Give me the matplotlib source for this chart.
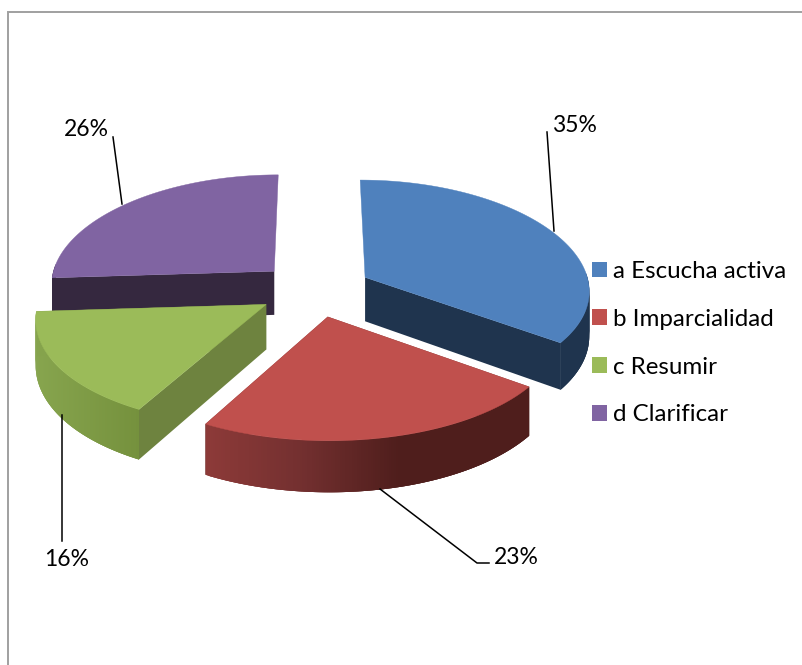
import numpy as np
import matplotlib
matplotlib.use("Agg")
import matplotlib.pyplot as plt
from matplotlib.patches import Polygon, Patch
from matplotlib.colors import to_rgb

categories = ["a Escucha activa", "b Imparcialidad", "c Resumir", "d Clarificar"]
values = [35, 23, 16, 26]
value_labels = ["35%", "23%", "16%", "26%"]
top_colors = ["#4f81bd", "#c0504d", "#9bbb59", "#8064a2"]
face_colors = ["#1f344e", "#4f1e1c", "#6e833f", "#35283f"]
# outer-side colour stops along pixel x: (x, colour)
side_stops = [
    [(0, "#1f344e"), (800, "#1f344e")],
    [(200, "#8f3b39"), (300, "#743030"), (400, "#4f1e1c"), (530, "#4f1e1c")],
    [(36, "#87a54e"), (140, "#75913d")],
    [(0, "#35283f"), (800, "#35283f")],
]
draw_order = [3, 0, 2, 1]

plt.rcParams["font.family"] = ["Lato", "DejaVu Sans"]
W, H = 803, 665
fig = plt.figure(figsize=(W / 100, H / 100), dpi=100)
ax = fig.add_axes([0, 0, 1, 1])
ax.set_xlim(0, W)
ax.set_ylim(H, 0)
ax.axis("off")

CX, CY, A, B, KX, KY, EXPL, DEPTH = 315, 289.6, 225, 107.9, 0.11, 0.088, 0.253, 44.5


def project(X, Y, drop=0.0):
    sx = 1 / (1 + KX * Y)
    sy = 1 / (1 + KY * Y)
    return np.column_stack([CX + A * X * sx, CY - B * Y * sy + drop * sx])


def side_color(stops, x):
    xs = [p[0] for p in stops]
    cols = np.array([to_rgb(p[1]) for p in stops])
    return tuple(np.interp(x, xs, cols[:, i]) for i in range(3))


fractions = np.array(values) / sum(values)
edges = np.concatenate([[0], np.cumsum(fractions)]) * 2 * np.pi

for i in draw_order:
    t0, t1 = edges[i], edges[i + 1]
    mid = (t0 + t1) / 2
    ox, oy = EXPL * np.sin(mid), EXPL * np.cos(mid)
    th = np.linspace(t0, t1, 160)
    rx, ry = ox + np.sin(th), oy + np.cos(th)
    rim_top = project(rx, ry)
    rim_bot = project(rx, ry, DEPTH)
    apex_top = project(np.array([ox]), np.array([oy]))[0]
    apex_bot = project(np.array([ox]), np.array([oy]), DEPTH)[0]
    for end in (0, -1):
        if rim_top[end, 1] > apex_top[1]:  # only cut faces that turn towards the viewer
            ax.add_patch(Polygon([apex_top, rim_top[end], rim_bot[end], apex_bot],
                                 closed=True, fc=face_colors[i], ec="none", zorder=2))
    # overlapping quads, painted in order, so that no seams show
    n = len(th)
    rising = rim_top[0, 0] < rim_top[-1, 0]
    order = range(n - 1) if rising else range(n - 2, -1, -1)
    for j in order:
        if np.cos(th[j]) > 0.05:  # the back of the rim is hidden
            continue
        k = min(j + 3, n - 1) if rising else j + 1
        m = j if rising else max(j - 2, 0)
        c = side_color(side_stops[i], rim_top[j, 0])
        ax.add_patch(Polygon([rim_top[m], rim_top[k], rim_bot[k], rim_bot[m]],
                             closed=True, fc=c, ec="none", zorder=2))
    ax.add_patch(Polygon(np.vstack([apex_top, rim_top]), closed=True,
                         fc=top_colors[i], ec=top_colors[i], lw=0.3, zorder=2))

# frame (only top and left visible)
ax.plot([8.5, 8.5, W], [H, 12, 12], color="#a0a0a0", lw=1.4, zorder=1, solid_joinstyle="miter")

# leader lines and value labels, in category order
leader_paths = [
    [(547, 132), (554, 231)],
    [(380, 489), (477, 563), (489, 563)],
    [(62, 415), (62, 541)],
    [(113, 137), (122, 204)],
]
label_pos = [(574, 125.5), (516, 557.5), (67, 560), (86, 130)]
FS = 16.5
for path, pos, txt in zip(leader_paths, label_pos, value_labels):
    xs, ys = zip(*path)
    ax.plot(xs, ys, color="black", lw=1.1, zorder=3)
    ax.text(pos[0], pos[1], txt, ha="center", va="center", fontsize=FS, color="black", zorder=4)

LFS = 17.4
fs_px = LFS * 100 / 72
handles = [Patch(fc=c, ec="none", label=n) for c, n in zip(top_colors, categories)]
ax.legend(handles=handles, loc="upper left", bbox_to_anchor=(592 / W, 1 - 261 / H),
          bbox_transform=ax.transAxes, frameon=False, fontsize=LFS, borderpad=0, borderaxespad=0,
          handlelength=15 / fs_px, handleheight=15 / fs_px, handletextpad=6 / fs_px,
          labelspacing=1.11, labelcolor="black")

fig.savefig("out.png", dpi=100)
